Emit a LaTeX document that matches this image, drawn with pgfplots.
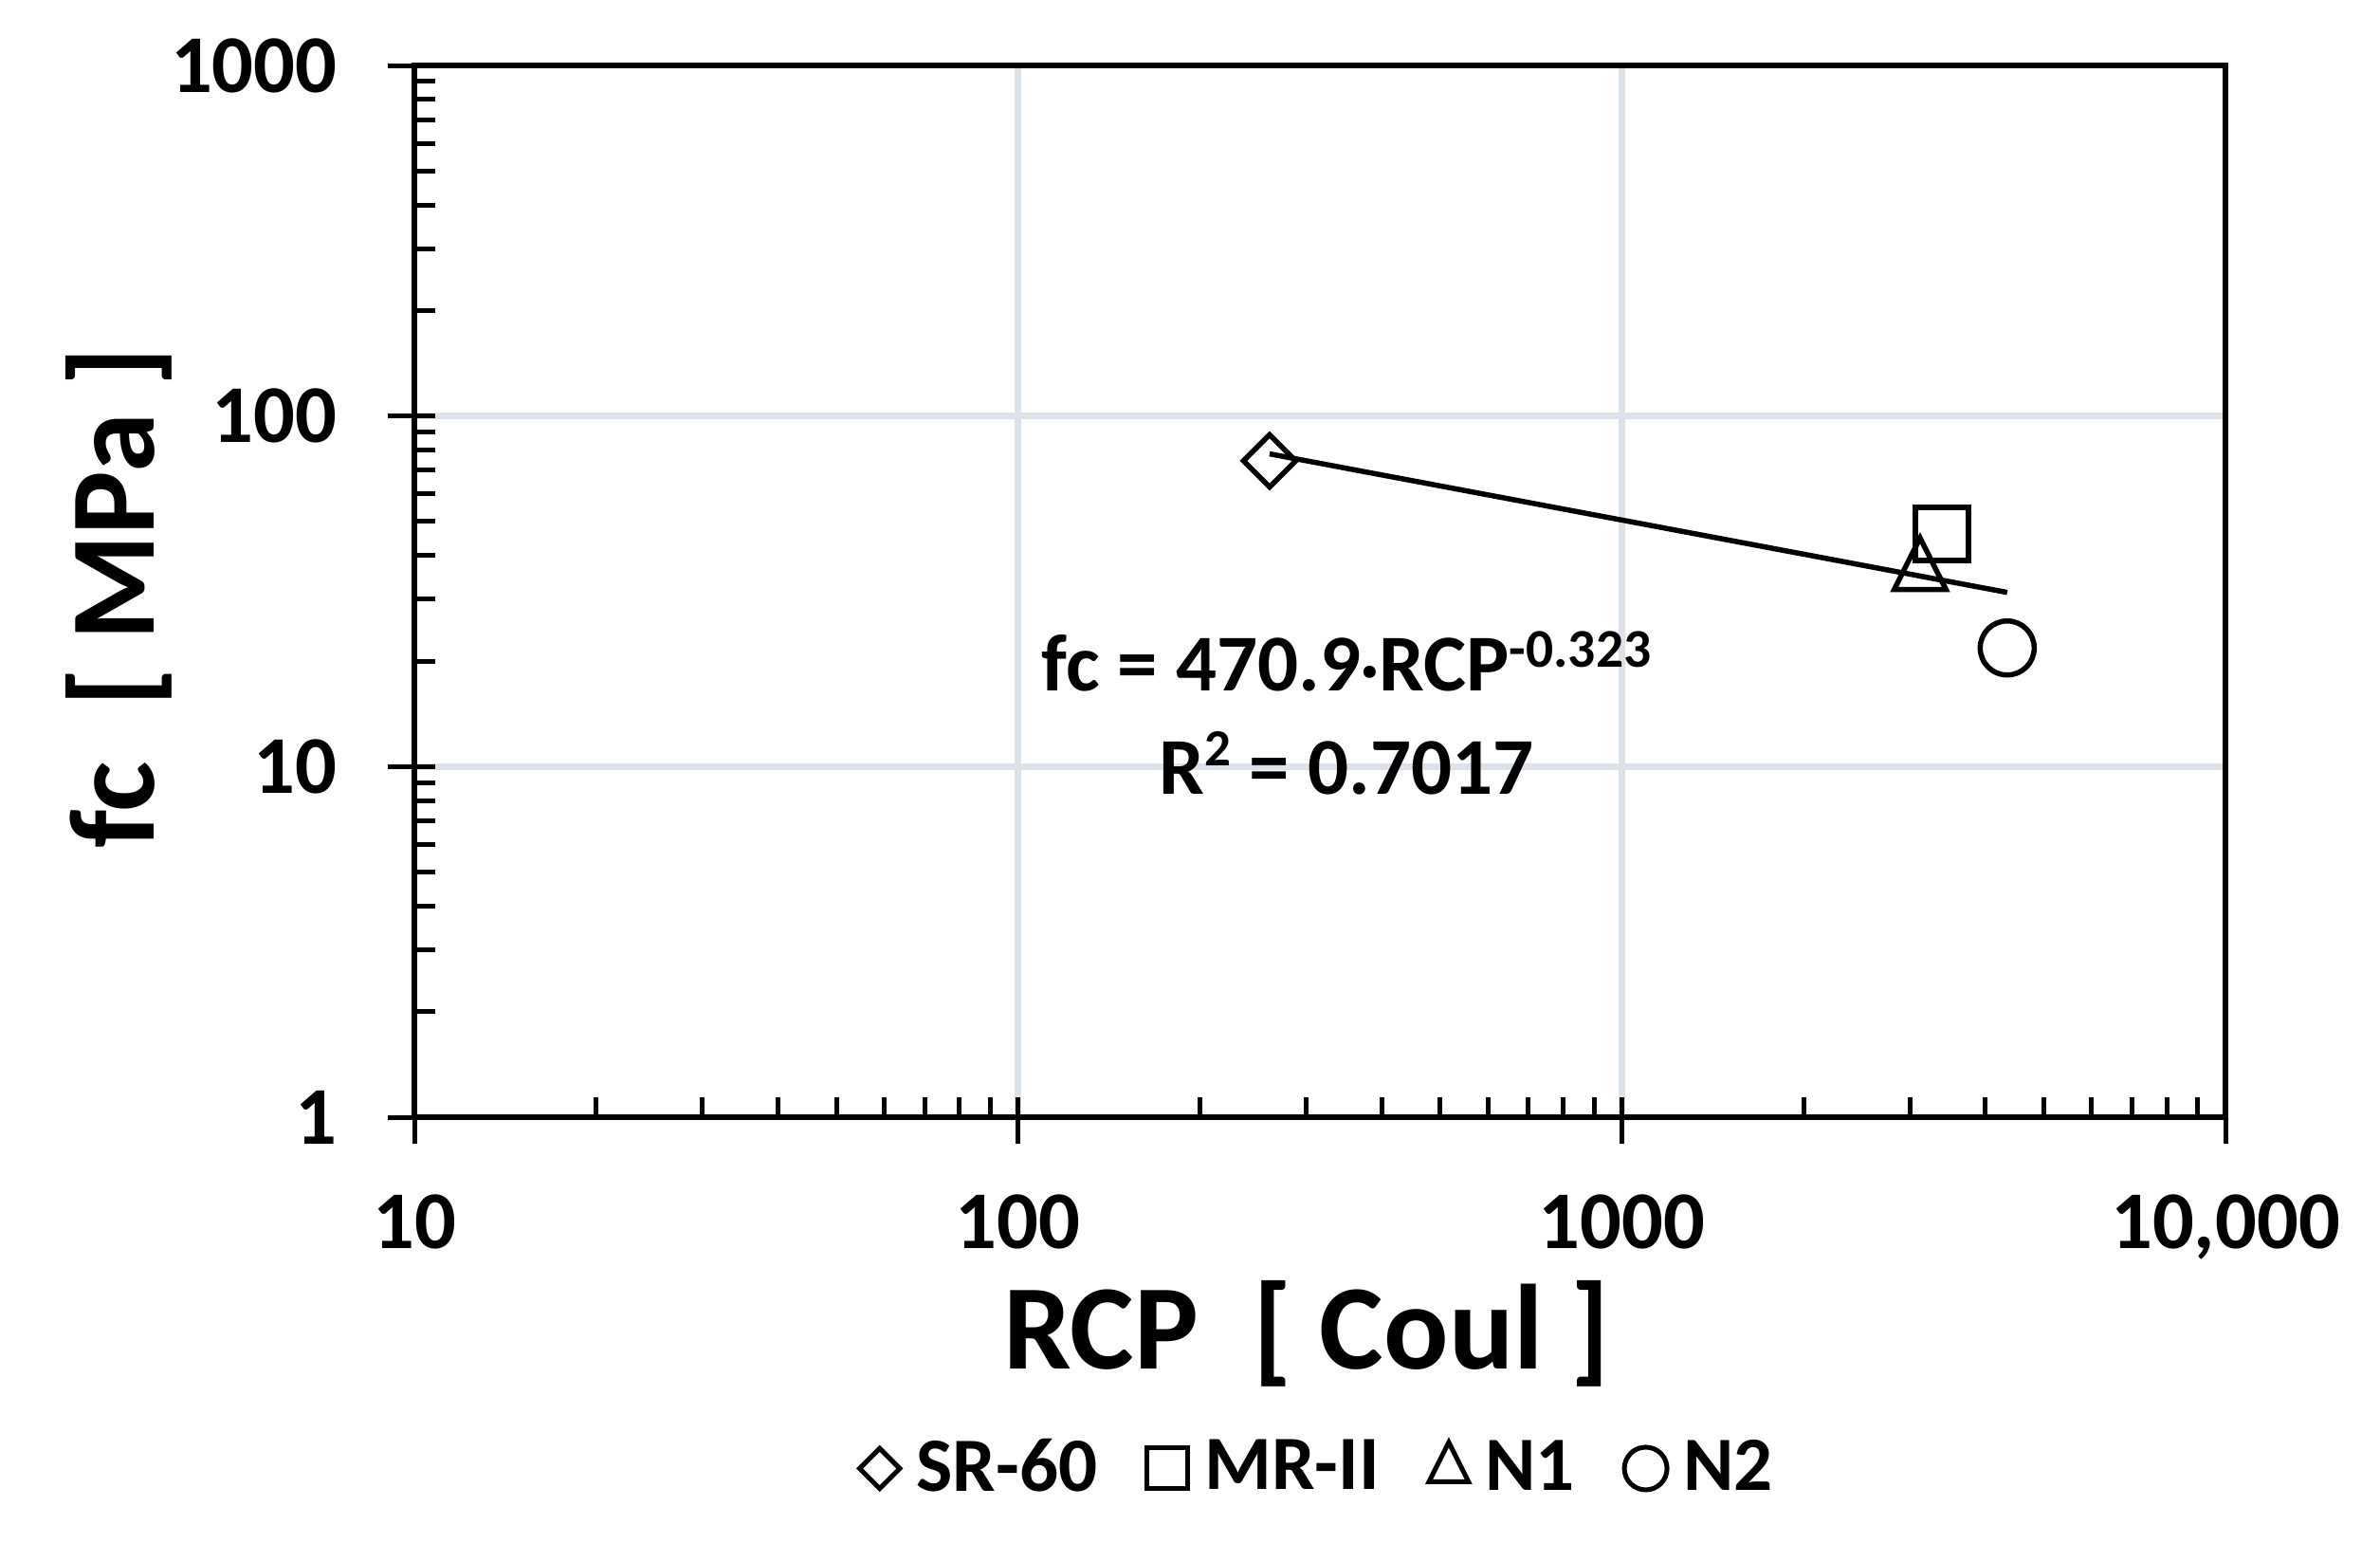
\documentclass[border=0pt]{standalone}
\usepackage{pgfplots}
\pgfplotsset{compat=1.18}
\usepackage{fontspec}
\setmainfont{Carlito}
\definecolor{gridc}{HTML}{DDE1E9}
\begin{document}
\begin{tikzpicture}[font=\bfseries]
\path[use as bounding box] (-87.4pt,-89.6pt) rectangle (414.6pt,235.6pt);
\begin{axis}[
  at={(0pt,0pt)}, anchor=south west,
  scale only axis, width=382pt, height=221.8pt,
  xmode=log, ymode=log,
  xmin=10, xmax=10000, ymin=1, ymax=1000,
  xtick={10,100,1000,10000},
  xticklabels={10,100,1000,{10,000}},
  ytick={1,10,100,1000},
  yticklabels={1,10,100,1000},
  tick pos=left,
  tick align=outside,
  major tick length=5.6pt,
  minor tick length=4.3pt,
  minor x tick style={yshift=4.3pt},
  minor y tick style={xshift=4.3pt},
  every tick/.style={black, line width=1pt},
  axis line style={black, line width=1.2pt},
  grid=major,
  major grid style={gridc, line width=1.3pt},
  ticklabel style={font=\fontsize{17.3}{20}\selectfont\bfseries},
  xticklabel style={yshift=-7.3pt},
  yticklabel style={xshift=-7.2pt},
  xlabel={RCP\ \ [ Coul ]},
  ylabel={fc\ \ [ MPa ]},
  label style={font=\fontsize{25.5}{30}\selectfont\bfseries},
  xlabel style={at={(axis description cs:0.4927,-0.239)}, anchor=base},
  ylabel style={at={(axis description cs:-0.1634,0.494)}, anchor=center},
  legend columns=4,
  legend style={at={(axis description cs:0.5,-0.334)}, anchor=center, draw=none, fill=none,
    font=\fontsize{16.2}{19}\selectfont\bfseries,
    nodes={inner sep=1.5pt},
    /tikz/every odd column/.append style={column sep=2pt},
    /tikz/every even column/.append style={column sep=9pt}},
  legend image code/.code={\draw[#1] plot coordinates {(0pt,0pt)};},
]
\addplot[forget plot, black, line width=1.1pt] coordinates {(261,78.0) (4350,31.4)};
\addplot[forget plot, only marks, mark=square, mark size=3.9pt, black, line width=1.1pt, mark options={rotate=45, fill=white}] coordinates {(261,74.5)};
\addplot[forget plot, only marks, mark=square, mark size=5.6pt, black, line width=1.1pt, mark options={fill=white, fill opacity=0}] coordinates {(3390,46.1)};
\addplot[forget plot, only marks, mark=triangle, mark size=6.3pt, black, line width=1.1pt, mark options={yshift=-1.8pt, yscale=1.15}] coordinates {(3120,37.9)};
\addplot[forget plot, only marks, mark=o, mark size=5.7pt, black, line width=1.1pt] coordinates {(4350,21.8)};
\node[anchor=base, font=\fontsize{17}{20}\selectfont\bfseries] at (rel axis cs:0.5147,0.405) {fc = 470.9{\fontsize{14}{14}\selectfont·}RCP\raisebox{5pt}{\fontsize{11.5}{12}\selectfont -0.323}};
\node[anchor=base, font=\fontsize{17}{20}\selectfont\bfseries] at (rel axis cs:0.5147,0.3075) {R\raisebox{6pt}{\fontsize{11}{12}\selectfont 2} = 0.7017};
\addlegendimage{mark=square, mark size=3.0pt, black, line width=1pt, mark options={rotate=45}}
\addlegendentry{SR-60}
\addlegendimage{mark=square, mark size=4.3pt, black, line width=1pt}
\addlegendentry{MR-II}
\addlegendimage{mark=triangle, mark size=4.8pt, black, line width=1pt, mark options={yscale=1.15}}
\addlegendentry{N1}
\addlegendimage{mark=o, mark size=4.5pt, black, line width=1pt}
\addlegendentry{N2}
\end{axis}
\end{tikzpicture}
\end{document}
